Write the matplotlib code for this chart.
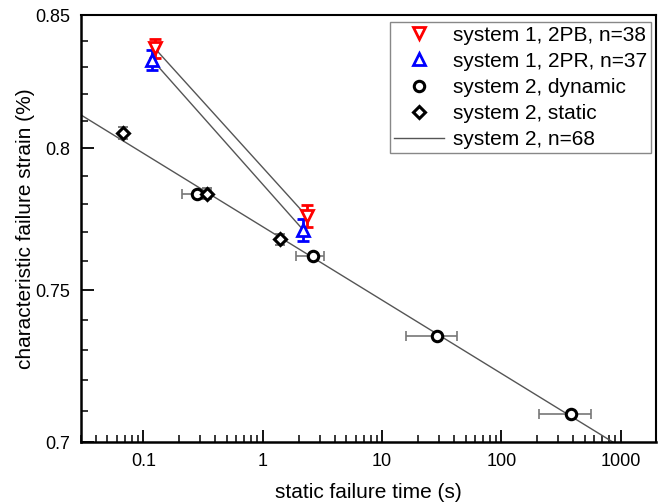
import numpy as np
import matplotlib
matplotlib.use("Agg")
import matplotlib.pyplot as plt
from matplotlib.ticker import FixedLocator, FixedFormatter, NullFormatter, LogLocator

plt.rcParams['font.family'] = ['Liberation Sans', 'DejaVu Sans']

# system 1, two-point bending (2PB)
t_2pb = [0.125, 2.34]
e_2pb = [0.8372, 0.7757]
err_2pb = [0.0038, 0.0038]

# system 1, two-point rotation (2PR)
t_2pr = [0.118, 2.19]
e_2pr = [0.8330, 0.7708]
err_2pr = [0.0038, 0.0038]

# system 2, dynamic tests (horizontal spread in failure time)
t_dyn = [0.28, 2.62, 29.0, 385.0]
e_dyn = [0.7837, 0.7618, 0.7346, 0.7090]
t_dyn_lo = [0.211, 1.905, 15.9, 205.0]
t_dyn_hi = [0.37, 3.29, 42.3, 566.0]

# system 2, static tests
t_sta = [0.068, 0.34, 1.40]
e_sta = [0.8058, 0.7837, 0.7676]
err_sta = [0.0022, 0.0020, 0.0020]

# system 2 power-law fit: strain = a * t^b
fit_a = 0.7720
fit_b = -0.0145

fig = plt.figure(figsize=(6.6, 5.04), dpi=100)
ax = fig.add_axes([0.1227, 0.123, 0.8708, 0.847])
ax.set_xscale('log')
ax.set_yscale('log')

line_col = '#555555'
t_fit = np.logspace(np.log10(0.02), np.log10(1500), 200)
ax.plot(t_fit, fit_a * t_fit ** fit_b, color=line_col, lw=1.0, zorder=2,
        label='system 2, n=68')
ax.plot(t_2pb, e_2pb, color=line_col, lw=1.0, zorder=2)
ax.plot(t_2pr, e_2pr, color=line_col, lw=1.0, zorder=2)

ax.errorbar(t_2pb, e_2pb, yerr=err_2pb, fmt='none', ecolor='red',
            elinewidth=2, capsize=4.5, capthick=2, zorder=3)
ax.errorbar(t_2pr, e_2pr, yerr=err_2pr, fmt='none', ecolor='blue',
            elinewidth=2, capsize=4.5, capthick=2, zorder=3)

xerr = [np.array(t_dyn) - np.array(t_dyn_lo), np.array(t_dyn_hi) - np.array(t_dyn)]
ax.errorbar(t_dyn, e_dyn, xerr=xerr, fmt='none', ecolor='#777777',
            elinewidth=1.2, capsize=3.5, capthick=1.2, zorder=3)
ax.errorbar(t_sta, e_sta, yerr=err_sta, fmt='none', ecolor='#666666',
            elinewidth=1.2, capsize=3.5, capthick=1.2, zorder=3)

ax.plot(t_2pb, e_2pb, linestyle='none', marker='v', ms=8, mfc='white',
        mec='red', mew=2, zorder=4, label='system 1, 2PB, n=38')
ax.plot(t_2pr, e_2pr, linestyle='none', marker='^', ms=8, mfc='white',
        mec='blue', mew=2, zorder=4, label='system 1, 2PR, n=37')
ax.plot(t_dyn, e_dyn, linestyle='none', marker='o', ms=7.5, mfc='white',
        mec='black', mew=2.2, zorder=4, label='system 2, dynamic')
ax.plot(t_sta, e_sta, linestyle='none', marker='D', ms=6.5, mfc='white',
        mec='black', mew=2.2, zorder=4, label='system 2, static')

ax.set_xlim(0.03, 1960)
ax.set_ylim(0.7, 0.85)

ax.xaxis.set_major_locator(FixedLocator([0.1, 1, 10, 100, 1000]))
ax.xaxis.set_major_formatter(FixedFormatter(['0.1', '1', '10', '100', '1000']))
ax.xaxis.set_minor_locator(LogLocator(base=10, subs=np.arange(2, 10), numticks=20))
ax.xaxis.set_minor_formatter(NullFormatter())

y_major = [0.7, 0.75, 0.8, 0.85]
ax.yaxis.set_major_locator(FixedLocator(y_major))
ax.yaxis.set_major_formatter(FixedFormatter(['0.7', '0.75', '0.8', '0.85']))
ax.yaxis.set_minor_locator(FixedLocator(np.round(np.arange(0.70, 0.851, 0.01), 2)))
ax.yaxis.set_minor_formatter(NullFormatter())

ax.tick_params(which='both', direction='in', top=False, right=False,
               labelsize=13, colors='black')
ax.tick_params(which='major', length=9, width=1.3, pad=8)
ax.tick_params(which='minor', length=5, width=1.1)

for side in ['left', 'bottom']:
    ax.spines[side].set_linewidth(1.8)
for side in ['top', 'right']:
    ax.spines[side].set_linewidth(1.5)

ax.set_xlabel('static failure time (s)', fontsize=15, labelpad=9)
ax.set_ylabel('characteristic failure strain (%)', fontsize=15, labelpad=0)

handles, labels = ax.get_legend_handles_labels()
order = [1, 2, 3, 4, 0]
leg = ax.legend([handles[i] for i in order], [labels[i] for i in order],
                loc='upper right', bbox_to_anchor=(0.9915, 0.985),
                fontsize=15, frameon=True, fancybox=False, framealpha=1,
                edgecolor='#888888', handlelength=2.4, handletextpad=0.4,
                borderpad=0.2, labelspacing=0.34, borderaxespad=0.0)
leg.get_frame().set_linewidth(1.0)

fig.savefig('out.png', dpi=100)
